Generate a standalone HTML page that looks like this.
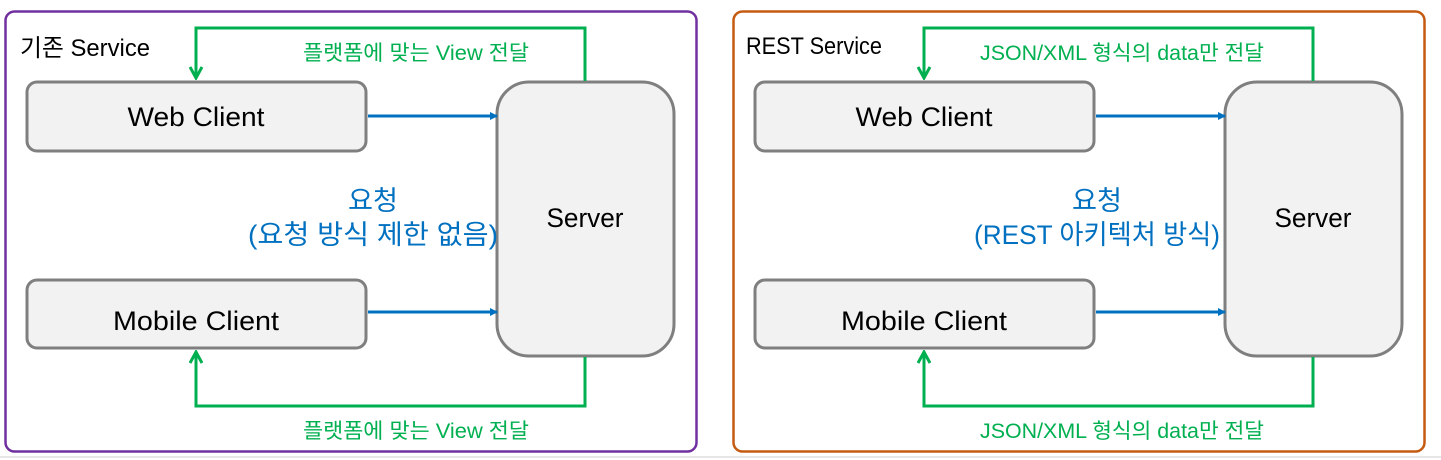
<!DOCTYPE html>
<html><head><meta charset="utf-8"><style>
html,body{margin:0;padding:0;background:#fff;width:1441px;height:460px;overflow:hidden}
svg text{font-family:"Liberation Sans","Noto Sans CJK KR",sans-serif}
</style></head><body>
<svg width="1441" height="460" viewBox="0 0 1441 460" xmlns="http://www.w3.org/2000/svg">
<defs>
<marker id="bl" markerWidth="8" markerHeight="8" refX="7" refY="4" orient="auto" markerUnits="userSpaceOnUse"><path d="M0,0 L8,4 L0,8 Z" fill="#0070c0"/></marker>
<marker id="gr" markerWidth="14" markerHeight="14" refX="12" refY="7" orient="auto" markerUnits="userSpaceOnUse"><path d="M1,1 L12,7 L1,13" fill="none" stroke="#00b050" stroke-width="3"/></marker>
</defs>
<line x1="0" y1="457" x2="1441" y2="457" stroke="#e6e6e6" stroke-width="2"/>
<g id="L">
<rect x="5.5" y="11.5" width="691" height="440" rx="9" fill="#fff" stroke="#7030a0" stroke-width="2.5"/>
<text x="20" y="56" font-size="24" textLength="130" lengthAdjust="spacingAndGlyphs">기존 Service</text>
<rect x="27" y="82" width="339" height="69" rx="10" fill="#f2f2f2" stroke="#7f7f7f" stroke-width="3"/>
<rect x="27" y="280" width="339" height="68" rx="10" fill="#f2f2f2" stroke="#7f7f7f" stroke-width="3"/>
<rect x="497" y="82" width="177" height="274" rx="32" fill="#f2f2f2" stroke="#7f7f7f" stroke-width="3"/>
<text x="196" y="126" font-size="27" text-anchor="middle" textLength="137" lengthAdjust="spacingAndGlyphs">Web Client</text>
<text x="196" y="330" font-size="27" text-anchor="middle" textLength="166" lengthAdjust="spacingAndGlyphs">Mobile Client</text>
<text x="585" y="227" font-size="27" text-anchor="middle" textLength="77" lengthAdjust="spacingAndGlyphs">Server</text>
<line x1="368" y1="116" x2="497" y2="116" stroke="#0070c0" stroke-width="3" marker-end="url(#bl)"/>
<line x1="368" y1="312" x2="497" y2="312" stroke="#0070c0" stroke-width="3" marker-end="url(#bl)"/>
<polyline points="585,81 585,28 196,28 196,78" fill="none" stroke="#00b050" stroke-width="3" marker-end="url(#gr)"/>
<polyline points="585,357 585,406 196,406 196,352" fill="none" stroke="#00b050" stroke-width="3" marker-end="url(#gr)"/>
<text x="416" y="60" font-size="21" fill="#00b050" text-anchor="middle" textLength="226" lengthAdjust="spacingAndGlyphs">플랫폼에 맞는 View 전달</text>
<text x="416" y="438" font-size="21" fill="#00b050" text-anchor="middle" textLength="226" lengthAdjust="spacingAndGlyphs">플랫폼에 맞는 View 전달</text>
<text x="373" y="210" font-size="27" fill="#0070c0" text-anchor="middle" textLength="50" lengthAdjust="spacingAndGlyphs">요청</text>
<text x="373" y="244" font-size="27" fill="#0070c0" text-anchor="middle" textLength="250" lengthAdjust="spacingAndGlyphs">(요청 방식 제한 없음)</text>
</g>
<g transform="translate(728,0)">
<rect x="5.5" y="11.5" width="691" height="440" rx="9" fill="#fff" stroke="#c55a11" stroke-width="2.5"/>
<text x="18" y="54" font-size="24" textLength="136" lengthAdjust="spacingAndGlyphs">REST Service</text>
<rect x="27" y="82" width="339" height="69" rx="10" fill="#f2f2f2" stroke="#7f7f7f" stroke-width="3"/>
<rect x="27" y="280" width="339" height="68" rx="10" fill="#f2f2f2" stroke="#7f7f7f" stroke-width="3"/>
<rect x="497" y="82" width="177" height="274" rx="32" fill="#f2f2f2" stroke="#7f7f7f" stroke-width="3"/>
<text x="196" y="126" font-size="27" text-anchor="middle" textLength="137" lengthAdjust="spacingAndGlyphs">Web Client</text>
<text x="196" y="330" font-size="27" text-anchor="middle" textLength="166" lengthAdjust="spacingAndGlyphs">Mobile Client</text>
<text x="585" y="227" font-size="27" text-anchor="middle" textLength="77" lengthAdjust="spacingAndGlyphs">Server</text>
<line x1="368" y1="116" x2="497" y2="116" stroke="#0070c0" stroke-width="3" marker-end="url(#bl)"/>
<line x1="368" y1="312" x2="497" y2="312" stroke="#0070c0" stroke-width="3" marker-end="url(#bl)"/>
<polyline points="585,81 585,28 196,28 196,78" fill="none" stroke="#00b050" stroke-width="3" marker-end="url(#gr)"/>
<polyline points="585,357 585,406 196,406 196,352" fill="none" stroke="#00b050" stroke-width="3" marker-end="url(#gr)"/>
<text x="394" y="60" font-size="21" fill="#00b050" text-anchor="middle" textLength="284" lengthAdjust="spacingAndGlyphs">JSON/XML 형식의 data만 전달</text>
<text x="394" y="438" font-size="21" fill="#00b050" text-anchor="middle" textLength="284" lengthAdjust="spacingAndGlyphs">JSON/XML 형식의 data만 전달</text>
<text x="369" y="210" font-size="27" fill="#0070c0" text-anchor="middle" textLength="50" lengthAdjust="spacingAndGlyphs">요청</text>
<text x="369" y="244" font-size="27" fill="#0070c0" text-anchor="middle" textLength="246" lengthAdjust="spacingAndGlyphs">(REST 아키텍처 방식)</text>
</g>
</svg>
</body></html>
